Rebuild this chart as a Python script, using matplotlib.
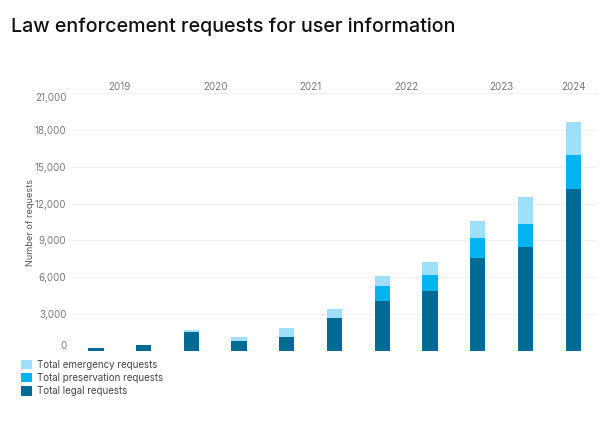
import numpy as np
import matplotlib.pyplot as plt

# half-year periods, H1 2019 .. H1 2024
periods = ["H1 2019", "H2 2019", "H1 2020", "H2 2020", "H1 2021", "H2 2021",
           "H1 2022", "H2 2022", "H1 2023", "H2 2023", "H1 2024"]
legal = [250, 470, 1580, 800, 1180, 2700, 4040, 4860, 7570, 8470, 13180]
preservation = [0, 0, 0, 0, 0, 0, 1290, 1340, 1610, 1890, 2780]
emergency = [0, 0, 160, 380, 730, 690, 760, 1070, 1370, 2210, 2650]

years = ["2019", "2020", "2021", "2022", "2023", "2024"]
year_pos = [0.5, 2.5, 4.5, 6.5, 8.5, 10]

c_legal = "#016b93"
c_pres = "#00b4f0"
c_emer = "#9fdffa"

plt.rcParams["font.family"] = ["Inter", "DejaVu Sans"]

fig = plt.figure(figsize=(6, 4.22), dpi=100)
ax = fig.add_axes([0.12, 0.168, 0.875, 0.612])

x = np.arange(len(periods))
w = 0.32
legal = np.array(legal)
preservation = np.array(preservation)
emergency = np.array(emergency)
b1 = ax.bar(x, legal, w, color=c_legal, label="Total legal requests", zorder=3)
b2 = ax.bar(x, preservation, w, bottom=legal, color=c_pres,
            label="Total preservation requests", zorder=3)
b3 = ax.bar(x, emergency, w, bottom=legal + preservation, color=c_emer,
            label="Total emergency requests", zorder=3)

ax.set_xlim(-0.5, 10.5)
ax.set_ylim(0, 21000)
ax.set_yticks(np.arange(0, 21001, 3000))
ax.set_yticklabels([f"{v:,}" for v in range(0, 21001, 3000)])
ax.set_xticks([])
ax.tick_params(axis="y", length=0, labelsize=7, labelcolor="#777777", pad=4)
# end labels sit inside the axis range, like the original
ylabels = ax.get_yticklabels()
ylabels[0].set_va("bottom")
ylabels[-1].set_va("top")
ax.yaxis.grid(True, color="#f0f0f0", linewidth=0.8, zorder=0)
for s in ax.spines.values():
    s.set_visible(False)
ax.set_ylabel("Number of requests", fontsize=6.6, color="#555555", labelpad=0)

top = ax.secondary_xaxis("top")
top.set_xticks(year_pos)
top.set_xticklabels(years)
top.tick_params(length=0, labelsize=7, labelcolor="#777777", pad=0.5)
top.spines["top"].set_color("#eeeeee")

fig.text(0.018, 0.937, "Law enforcement requests for user information",
         fontsize=14.2, fontweight="medium", color="#111111", va="center")

fig.legend(handles=[b3, b2, b1], loc="upper left", bbox_to_anchor=(0.035, 0.148),
           frameon=False, fontsize=7, labelcolor="#444444", handlelength=1.1,
           handleheight=1.1, handletextpad=0.5, labelspacing=0.35,
           borderaxespad=0, borderpad=0)

fig.savefig("out.png", dpi=100, facecolor="white")
